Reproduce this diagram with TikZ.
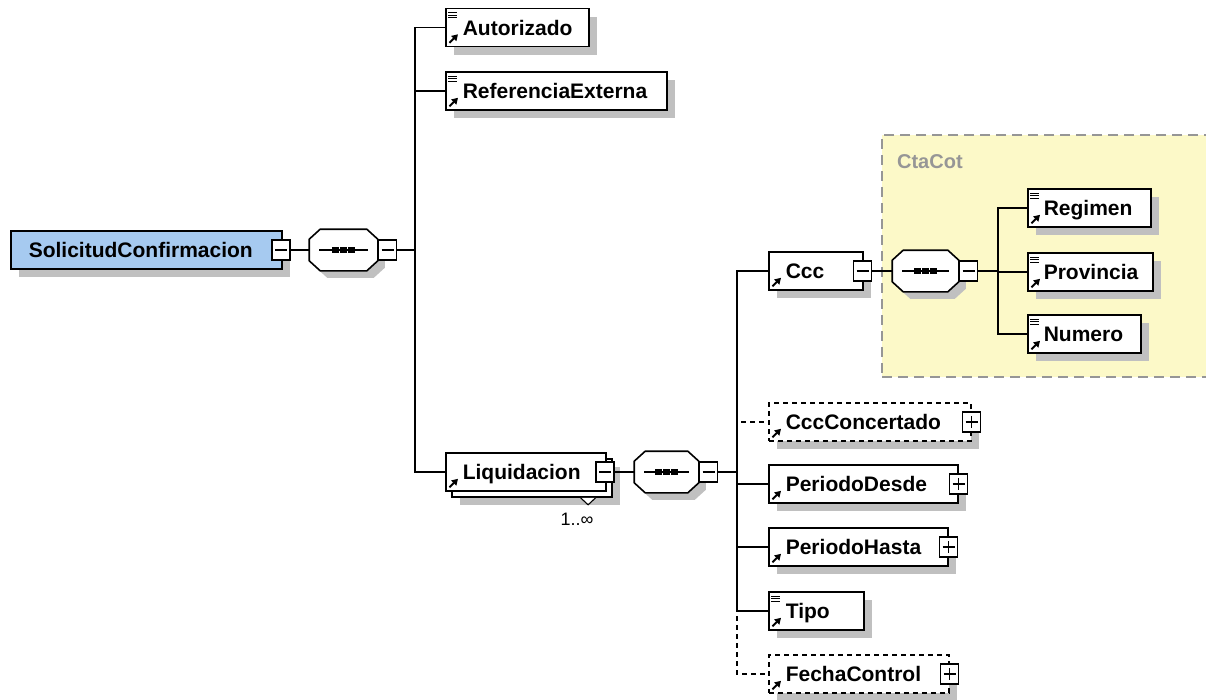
\documentclass[tikz,border=0pt]{standalone}
\usepackage{fontspec}
\setmainfont{Liberation Sans}
\usetikzlibrary{shadows,calc,arrows.meta}
\definecolor{shadowgray}{RGB}{192,192,192}
\definecolor{rootblue}{RGB}{166,202,240}
\definecolor{grpyellow}{RGB}{252,249,200}
\definecolor{grpgray}{RGB}{150,150,150}
\newcommand\octpath[3]{([shift={(11+#2,#3)}]#1.north west) -- ([shift={(-11+#2,#3)}]#1.north east) -- ([shift={(#2,10+#3)}]#1.north east) -- ([shift={(#2,-10+#3)}]#1.south east) -- ([shift={(-11+#2,#3)}]#1.south east) -- ([shift={(11+#2,#3)}]#1.south west) -- ([shift={(#2,-10+#3)}]#1.south west) -- ([shift={(#2,10+#3)}]#1.north west) -- cycle}
\newcommand\seqdraw[1]{%
  \fill[shadowgray] \octpath{#1}{7}{7};
  \filldraw[fill=white] \octpath{#1}{0}{0};
  \draw ([shift={(10,0)}]#1.west) -- ([shift={(-10,0)}]#1.east);
  \foreach \k in {-8,0,8} \fill ([shift={(\k-3.2,-3)}]#1.center) rectangle ([shift={(\k+3.2,3)}]#1.center);}
\newcommand\refarrow[1]{\draw[line width=2pt, -{Triangle[length=6pt,width=7pt]}] ([shift={(4.5,-4.5)}]#1.south west) -- ([shift={(13,-13)}]#1.south west);}
\newcommand\typelines[1]{\foreach \k in {0,1,2} \draw[line width=1pt] ([shift={(3,5+2.6*\k)}]#1.north west) -- ([shift={(11.5,5+2.6*\k)}]#1.north west);}
\begin{document}
\begin{tikzpicture}[x=1pt,y=-1pt, line width=1.6pt,
  elemns/.style={rectangle, draw=black, fill=white, anchor=west, minimum height=38pt,
    inner xsep=0pt, inner ysep=0pt, text height=15pt, text depth=0pt, align=left,
    font=\fontsize{21}{24}\selectfont\bfseries},
  elem/.style={elemns, drop shadow={shadow xshift=8pt, shadow yshift=-8pt, fill=shadowgray, opacity=1}},
  opt/.style={dash pattern=on 5pt off 4pt},
  seqbox/.style={rectangle, draw=none, minimum height=40pt, inner sep=0pt},
  pm/.style={rectangle, draw=black, fill=white, minimum width=18pt, minimum height=20pt, inner sep=0pt, line width=1.4pt},
  minus/.style={pm, path picture={\draw[line width=1.1pt] ([shift={(-6,0)}]path picture bounding box.center) -- ([shift={(6,0)}]path picture bounding box.center);}},
  plus/.style={pm, path picture={\draw[line width=1.1pt] ([shift={(-6,0)}]path picture bounding box.center) -- ([shift={(6,0)}]path picture bounding box.center) ([shift={(0,-6)}]path picture bounding box.center) -- ([shift={(0,6)}]path picture bounding box.center);}},
  grp/.style={rectangle, draw=grpgray, fill=grpyellow, line width=1.6pt, dash pattern=on 10pt off 6pt},
]
\useasboundingbox (0,0) rectangle (1206,699);

% group CtaCot
\node[grp, minimum width=333pt, minimum height=242pt] (ctacot) at (1048.5,256) {};
\node[anchor=west, text=grpgray, font=\fontsize{20}{24}\selectfont\bfseries] (ctacotlbl) at (893,162) {CtaCot};

% coordinates for junctions
\coordinate (j1) at (415,250);
\coordinate (j2) at (737,472);
\coordinate (j3) at (998,271);

% root
\node[elem, fill=rootblue, text width=271pt] (root) at (10,250) {\hspace*{18pt}SolicitudConfirmacion};
\node[minus] (rootpm) at (281,250) {};

% sequence 1
\node[seqbox, minimum width=67pt] (seq1) at (343.5,250) {};
\draw (rootpm.east) -- (seq1.west);
\seqdraw{seq1}
\node[minus, anchor=west] (seq1pm) at (seq1.east) {};
\draw (seq1pm.east) -- (j1);

% level 1 children
\node[elem, text width=143pt] (aut) at (445,27.5) {\hspace*{17pt}Autorizado};
\node[elem, text width=221pt] (ref) at (445,91) {\hspace*{17pt}ReferenciaExterna};
\node[elem, minimum width=160pt] (liqback) at (451,478) {};
\draw[fill=white, line width=1.1pt] ([shift={(-32,0)}]liqback.south east) -- ([shift={(-24.5,7)}]liqback.south east) -- ([shift={(-17,0)}]liqback.south east);
\node[elemns, text width=160pt] (liq) at (445,472) {\hspace*{17pt}Liquidacion};
\node[minus] (liqpm) at (605,472) {};
\node[font=\fontsize{18}{20}\selectfont] (mult) at (577,519) {1..∞};
\draw (j1) |- (aut.west);
\draw (j1) |- (ref.west);
\draw (j1) |- (liq.west);
\typelines{aut}\refarrow{aut}
\typelines{ref}\refarrow{ref}
\refarrow{liq}

% sequence 2
\node[seqbox, minimum width=63pt] (seq2) at (666.5,472) {};
\draw (liqpm.east) -- (seq2.west);
\seqdraw{seq2}
\node[minus, anchor=west] (seq2pm) at (seq2.east) {};
\draw (seq2pm.east) -- (j2);

% level 2 children
\node[elem, text width=94pt] (ccc) at (768,271) {\hspace*{17pt}Ccc};
\node[minus] (cccpm) at (862.5,271) {};
\node[elem, opt, text width=202pt] (cccconc) at (768,422) {\hspace*{17pt}CccConcertado};
\node[plus] (cccconcpm) at (cccconc.east) {};
\node[elem, text width=189pt] (pdesde) at (768,484) {\hspace*{17pt}PeriodoDesde};
\node[plus] (pdesdepm) at (pdesde.east) {};
\node[elem, text width=179pt] (phasta) at (768,547) {\hspace*{17pt}PeriodoHasta};
\node[plus] (phastapm) at (phasta.east) {};
\node[elem, text width=95pt] (tipo) at (768,611) {\hspace*{17pt}Tipo};
\node[elem, opt, text width=180pt] (fecha) at (768,674) {\hspace*{17pt}FechaControl};
\node[plus] (fechapm) at (fecha.east) {};
\draw[opt] (j2) |- (cccconc.west);
\draw[opt] (j2) |- (fecha.west);
\draw (j2) |- (ccc.west);
\draw (j2) |- (pdesde.west);
\draw (j2) |- (phasta.west);
\draw (j2) |- (tipo.west);
\refarrow{ccc}\refarrow{cccconc}\refarrow{pdesde}\refarrow{phasta}\refarrow{fecha}
\typelines{tipo}\refarrow{tipo}

% sequence 3
\node[seqbox, minimum width=65pt] (seq3) at (925.5,271) {};
\draw (cccpm.east) -- (seq3.west);
\seqdraw{seq3}
\node[minus, anchor=west] (seq3pm) at (seq3.east) {};
\draw (seq3pm.east) -- (j3);

% level 3 children
\node[elem, text width=123pt] (regimen) at (1027,208) {\hspace*{16pt}Regimen};
\node[elem, text width=125pt] (provincia) at (1027,272) {\hspace*{16pt}Provincia};
\node[elem, text width=113pt] (numero) at (1027,334) {\hspace*{16pt}Numero};
\draw (j3) |- (regimen.west);
\draw (j3) |- (provincia.west);
\draw (j3) |- (numero.west);
\typelines{regimen}\refarrow{regimen}
\typelines{provincia}\refarrow{provincia}
\typelines{numero}\refarrow{numero}
\end{tikzpicture}
\end{document}
